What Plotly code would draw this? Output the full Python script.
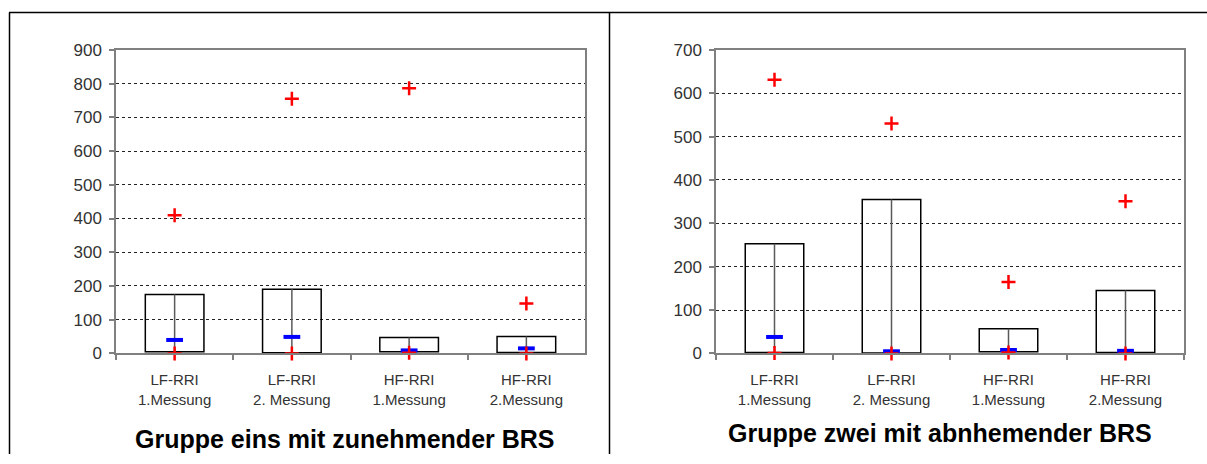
import plotly.graph_objects as go

categories = ["LF-RRI<br>1.Messung", "LF-RRI<br>2. Messung", "HF-RRI<br>1.Messung", "HF-RRI<br>2.Messung"]

# Gruppe eins (zunehmende BRS)
g1_low = [5, 2, 5, 3]
g1_high = [175, 190, 47, 50]
g1_median = [40, 49, 9, 15]
g1_max = [410, 755, 786, 148]
g1_min = [0, 0, 2, 0]

# Gruppe zwei (abnehmende BRS)
g2_low = [2, 1, 4, 2]
g2_high = [253, 355, 57, 145]
g2_median = [38, 5, 8, 6]
g2_max = [631, 530, 165, 351]
g2_min = [1, 0, 2, 0]

titles = ["Gruppe eins mit zunehmender BRS", "Gruppe zwei mit abnhemender BRS"]
y_max = [900, 700]

W, H = 1207, 464
FONT = "Liberation Sans, Arial, sans-serif"

def px(x):
    return x / W

def py(y):
    # vertical pixel position -> paper fraction (calibrated to the rendered page)
    return 1 - (y - 8) / 447

fig = go.Figure()

groups = [(g1_low, g1_high, g1_median, g1_max, g1_min),
          (g2_low, g2_high, g2_median, g2_max, g2_min)]

for i, (low, high, med, mx, mn) in enumerate(groups):
    xa = "x" if i == 0 else "x2"
    ya = "y" if i == 0 else "y2"
    span = [h - l for h, l in zip(high, low)]
    fig.add_trace(go.Bar(x=categories, y=span, base=low, width=0.5,
                         marker=dict(color="rgba(0,0,0,0)", line=dict(color="black", width=1.5)),
                         xaxis=xa, yaxis=ya, showlegend=False, hoverinfo="skip"))
    lx, ly = [], []
    for c, l, h in zip(categories, low, high):
        lx += [c, c, None]
        ly += [l, h, None]
    fig.add_trace(go.Scatter(x=lx, y=ly, mode="lines", line=dict(color="#5a5a5a", width=1.5),
                             xaxis=xa, yaxis=ya, showlegend=False, hoverinfo="skip"))
    fig.add_trace(go.Scatter(x=categories, y=med, mode="markers",
                             marker=dict(symbol="line-ew", size=12, line=dict(color="#0000ff", width=4)),
                             xaxis=xa, yaxis=ya, showlegend=False, cliponaxis=False))
    fig.add_trace(go.Scatter(x=categories + categories, y=mx + mn, mode="markers",
                             marker=dict(symbol="cross-thin", size=10, line=dict(color="#ff0000", width=2.5)),
                             xaxis=xa, yaxis=ya, showlegend=False, cliponaxis=False))

axis_common_x = dict(type="category", tickson="boundaries", ticks="outside", ticklen=5,
                     tickcolor="#808080", tickwidth=1.5, showline=True, linecolor="#808080",
                     linewidth=1.5, mirror=True, showgrid=False, range=[-0.5, 3.5],
                     tickfont=dict(family=FONT, size=15, color="#333333"), ticklabelstandoff=12,
                     fixedrange=True)
axis_common_y = dict(ticks="outside", ticklen=5, tickcolor="#808080", tickwidth=1.5,
                     showline=True, linecolor="#808080", linewidth=1.5, mirror=True,
                     showgrid=True, gridcolor="#222222", gridwidth=1, griddash="dot",
                     dtick=100, zeroline=False,
                     tickfont=dict(family=FONT, size=17, color="#333333"), ticklabelstandoff=4,
                     fixedrange=True)

fig.update_layout(
    width=W, height=H, margin=dict(l=0, r=0, t=0, b=0),
    paper_bgcolor="white", plot_bgcolor="white", barmode="overlay",
    xaxis=dict(domain=[px(116), px(585)], anchor="y", **axis_common_x),
    yaxis=dict(domain=[py(354), py(49)], anchor="x", range=[0, y_max[0]], **axis_common_y),
    xaxis2=dict(domain=[px(716), px(1184)], anchor="y2", **axis_common_x),
    yaxis2=dict(domain=[py(354), py(49)], anchor="x2", range=[0, y_max[1]], **axis_common_y),
)

fig.add_annotation(x=px(345), y=py(440), xref="paper", yref="paper", text="<b>" + titles[0] + "</b>",
                   showarrow=False, font=dict(family=FONT, size=25, color="black"),
                   xanchor="center", yanchor="middle")
fig.add_annotation(x=px(940), y=py(434), xref="paper", yref="paper", text="<b>" + titles[1] + "</b>",
                   showarrow=False, font=dict(family=FONT, size=25, color="black"),
                   xanchor="center", yanchor="middle")

# panel frames
fig.add_shape(type="line", xref="paper", yref="paper", x0=px(9), x1=1, y0=py(11.5), y1=py(11.5),
              line=dict(color="black", width=1.5))
fig.add_shape(type="line", xref="paper", yref="paper", x0=px(9.5), x1=px(9.5), y0=0, y1=py(11.5),
              line=dict(color="black", width=1.5))
fig.add_shape(type="line", xref="paper", yref="paper", x0=px(609.5), x1=px(609.5), y0=0, y1=py(11.5),
              line=dict(color="black", width=1.5))

fig.write_html("out.html")
